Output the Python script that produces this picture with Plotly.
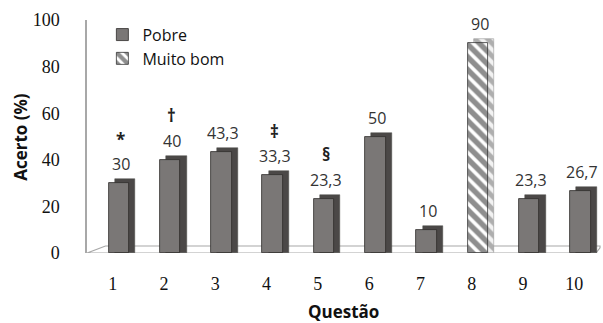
import plotly.graph_objects as go

questions = [1, 2, 3, 4, 5, 6, 7, 8, 9, 10]
acerto = [30, 40, 43.3, 33.3, 23.3, 50, 10, 90, 23.3, 26.7]
nivel = ["Pobre", "Pobre", "Pobre", "Pobre", "Pobre", "Pobre", "Pobre", "Muito bom", "Pobre", "Pobre"]
simbolos = ["*", "†", "", "‡", "§", "", "", "", "", ""]
tick_labels = [str(q) for q in questions]
y_ticks = [0, 20, 40, 60, 80, 100]

FRONT = "#7a7776"
SIDE = "#4b4847"
EDGE = "#2e2c2b"
DEPTH = 1.7

fig = go.Figure()

# side/top faces (pseudo 3D)
for lvl in ["Pobre", "Muito bom"]:
    xs = [q for q, n in zip(questions, nivel) if n == lvl]
    ys = [v + DEPTH for v, n in zip(acerto, nivel) if n == lvl]
    if lvl == "Pobre":
        marker = dict(color=SIDE, line=dict(color=SIDE, width=0.5))
    else:
        marker = dict(color="white", line=dict(color="#9a9a9a", width=0.6),
                      pattern=dict(shape="\\", fgcolor="#6a6a6a", bgcolor="#f2f2f2", size=9, solidity=0.55))
    fig.add_trace(go.Bar(x=xs, y=ys, width=0.4, offset=0.04, marker=marker,
                         showlegend=False, hoverinfo="skip"))

# front faces
for lvl in ["Pobre", "Muito bom"]:
    xs = [q for q, n in zip(questions, nivel) if n == lvl]
    ys = [v for v, n in zip(acerto, nivel) if n == lvl]
    if lvl == "Pobre":
        marker = dict(color=FRONT, line=dict(color=EDGE, width=0.8))
    else:
        marker = dict(color="white", line=dict(color="#333333", width=0.8),
                      pattern=dict(shape="\\", fgcolor="#1e1e1e", bgcolor="white", size=9, solidity=0.6))
    fig.add_trace(go.Bar(x=xs, y=ys, width=0.4, offset=-0.08, marker=marker,
                         name=lvl, showlegend=True))

annotations = []
for q, v, s in zip(questions, acerto, simbolos):
    lbl = f"{v:g}".replace(".", ",")
    annotations.append(dict(x=q, y=v, xref="x", yref="y", text=lbl, showarrow=False,
                            xshift=8, yshift=19, yanchor="middle",
                            font=dict(family="Open Sans", size=16, color="#333333")))
    if s:
        annotations.append(dict(x=q, y=v, xref="x", yref="y", text=f"<b>{s}</b>", showarrow=False,
                                xshift=8, yshift=44, yanchor="middle",
                                font=dict(family="Open Sans", size=17, color="#222222")))

annotations.append(dict(x=-0.13, y=0.5, xref="paper", yref="paper", text="<b>Acerto (%)</b>",
                        textangle=-90, showarrow=False, xanchor="center", yanchor="middle",
                        font=dict(family="Open Sans", size=17, color="#111111")))
annotations.append(dict(x=0.5, y=-0.25, xref="paper", yref="paper", text="<b>Questão</b>",
                        showarrow=False, xanchor="center", yanchor="middle",
                        font=dict(family="Open Sans", size=17, color="#111111")))

floor = dict(type="path", xref="paper", yref="y", layer="below",
             path="M 0 0 L 0.992 0 L 1 2.2 L 1 3 L 0.036 3 Z",
             fillcolor="white", line=dict(color="#a8a8a8", width=1.2))

fig.update_layout(
    width=603, height=323,
    margin=dict(l=87, r=3, t=20, b=70),
    paper_bgcolor="white", plot_bgcolor="white",
    barmode="overlay",
    bargap=0,
    annotations=annotations,
    shapes=[floor],
    legend=dict(x=0.03, y=1.01, xanchor="left", yanchor="top", bgcolor="rgba(0,0,0,0)",
                font=dict(family="Open Sans", size=16, color="#111111"),
                tracegroupgap=6, itemwidth=30),
    xaxis=dict(range=[0.5, 10.5], tickmode="array", tickvals=questions, ticktext=tick_labels,
               showgrid=False, zeroline=False, showline=False, ticks="",
               ticklabelstandoff=18,
               tickfont=dict(family="Liberation Serif", size=18, color="#111111")),
    yaxis=dict(range=[0, 100], tickmode="array", tickvals=y_ticks,
               showgrid=False, zeroline=False, showline=True, linecolor="#a8a8a8", linewidth=1.5,
               ticks="", ticklabelstandoff=22,
               tickfont=dict(family="Liberation Serif", size=18, color="#111111")),
)

fig.write_html("out.html")
